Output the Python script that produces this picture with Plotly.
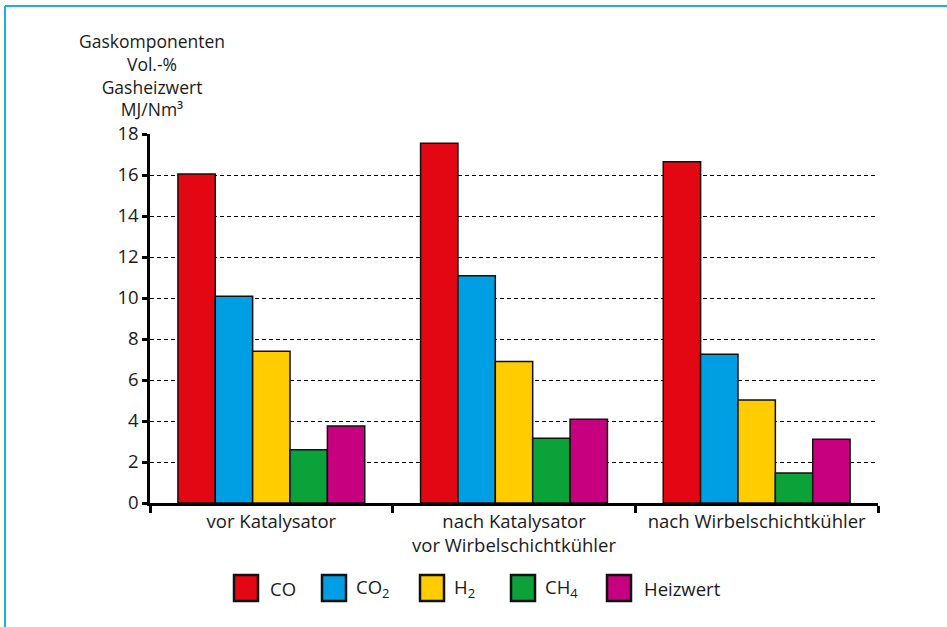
import plotly.graph_objects as go

categories = ["vor Katalysator", "nach Katalysator<br>vor Wirbelschichtkühler", "nach Wirbelschichtkühler"]
series_names = ["CO", "CO<sub>2</sub>", "H<sub>2</sub>", "CH<sub>4</sub>", "Heizwert"]
co = [16.05, 17.55, 16.65]
co2 = [10.08, 11.08, 7.26]
h2 = [7.40, 6.90, 5.02]
ch4 = [2.60, 3.16, 1.46]
heizwert = [3.76, 4.08, 3.11]
colors = ["#E30613", "#009FE3", "#FFCC00", "#0BA23A", "#C6007E"]
y_ticks = [0, 2, 4, 6, 8, 10, 12, 14, 16, 18]
title_lines = ["Gaskomponenten", "Vol.-%", "Gasheizwert", "MJ/Nm³"]

values = [co, co2, h2, ch4, heizwert]
FONT = "Open Sans"
FS = 18.5
TXT = "#1a1a1a"

fig = go.Figure()
for name, vals, col in zip(series_names, values, colors):
    fig.add_trace(go.Bar(x=categories, y=vals, name=name,
                         marker=dict(color=col, line=dict(color="#111111", width=1.5)),
                         showlegend=False))

W, H = 947, 627
L, R, T, B = 150, 69, 134, 124
pw, ph = W - L - R, H - T - B
def px(x):
    return (x - L) / pw
def py(y):
    return (H - B - y) / ph

shapes = []
annotations = []
# manual legend
sq_x = [233, 321, 419, 510, 606]
lab_x = [268, 354, 452, 543, 642]
for i, (name, col) in enumerate(zip(series_names, colors)):
    shapes.append(dict(type="rect", xref="paper", yref="paper",
                       x0=px(sq_x[i] + 1), x1=px(sq_x[i] + 25), y0=py(601), y1=py(575),
                       fillcolor=col, line=dict(color="#111111", width=2.5)))
    annotations.append(dict(text=name, xref="paper", yref="paper", x=px(lab_x[i]), y=py(588),
                            xanchor="left", yanchor="middle", showarrow=False,
                            font=dict(family=FONT, size=FS, color=TXT)))

# y-axis title
annotations.append(dict(text="<br>".join(title_lines), xref="paper", yref="paper",
                        x=px(152), y=py(75), xanchor="center", yanchor="middle", align="center",
                        showarrow=False, font=dict(family=FONT, size=17.5, color=TXT)))

# blue frame
frame_col = "#19AEEC"
shapes.append(dict(type="line", xref="paper", yref="paper", x0=px(5), x1=px(960), y0=py(6), y1=py(6),
                   line=dict(color=frame_col, width=2)))
shapes.append(dict(type="line", xref="paper", yref="paper", x0=px(5), x1=px(5), y0=py(6), y1=py(640),
                   line=dict(color=frame_col, width=2)))

fig.update_layout(
    width=W, height=H,
    margin=dict(l=L, r=R, t=T, b=B),
    paper_bgcolor="white", plot_bgcolor="white",
    barmode="group", bargap=0.23, bargroupgap=0,
    font=dict(family=FONT, size=FS, color=TXT),
    shapes=shapes, annotations=annotations,
    showlegend=False,
)
fig.update_xaxes(showline=True, linecolor="black", linewidth=2.5, ticks="outside", tickson="boundaries",
                 ticklen=7, tickwidth=2.5, tickcolor="black", showgrid=False,
                 tickfont=dict(family=FONT, size=FS, color=TXT))
fig.update_yaxes(range=[0, 18], tickvals=y_ticks, showline=True, linecolor="black", linewidth=2.5,
                 ticks="outside", ticklen=5, tickwidth=2.5, tickcolor="black",
                 showgrid=True, gridcolor="black", gridwidth=1, griddash="4px,3px", zeroline=False,
                 tickfont=dict(family=FONT, size=FS, color=TXT))

fig.write_html("out.html")
